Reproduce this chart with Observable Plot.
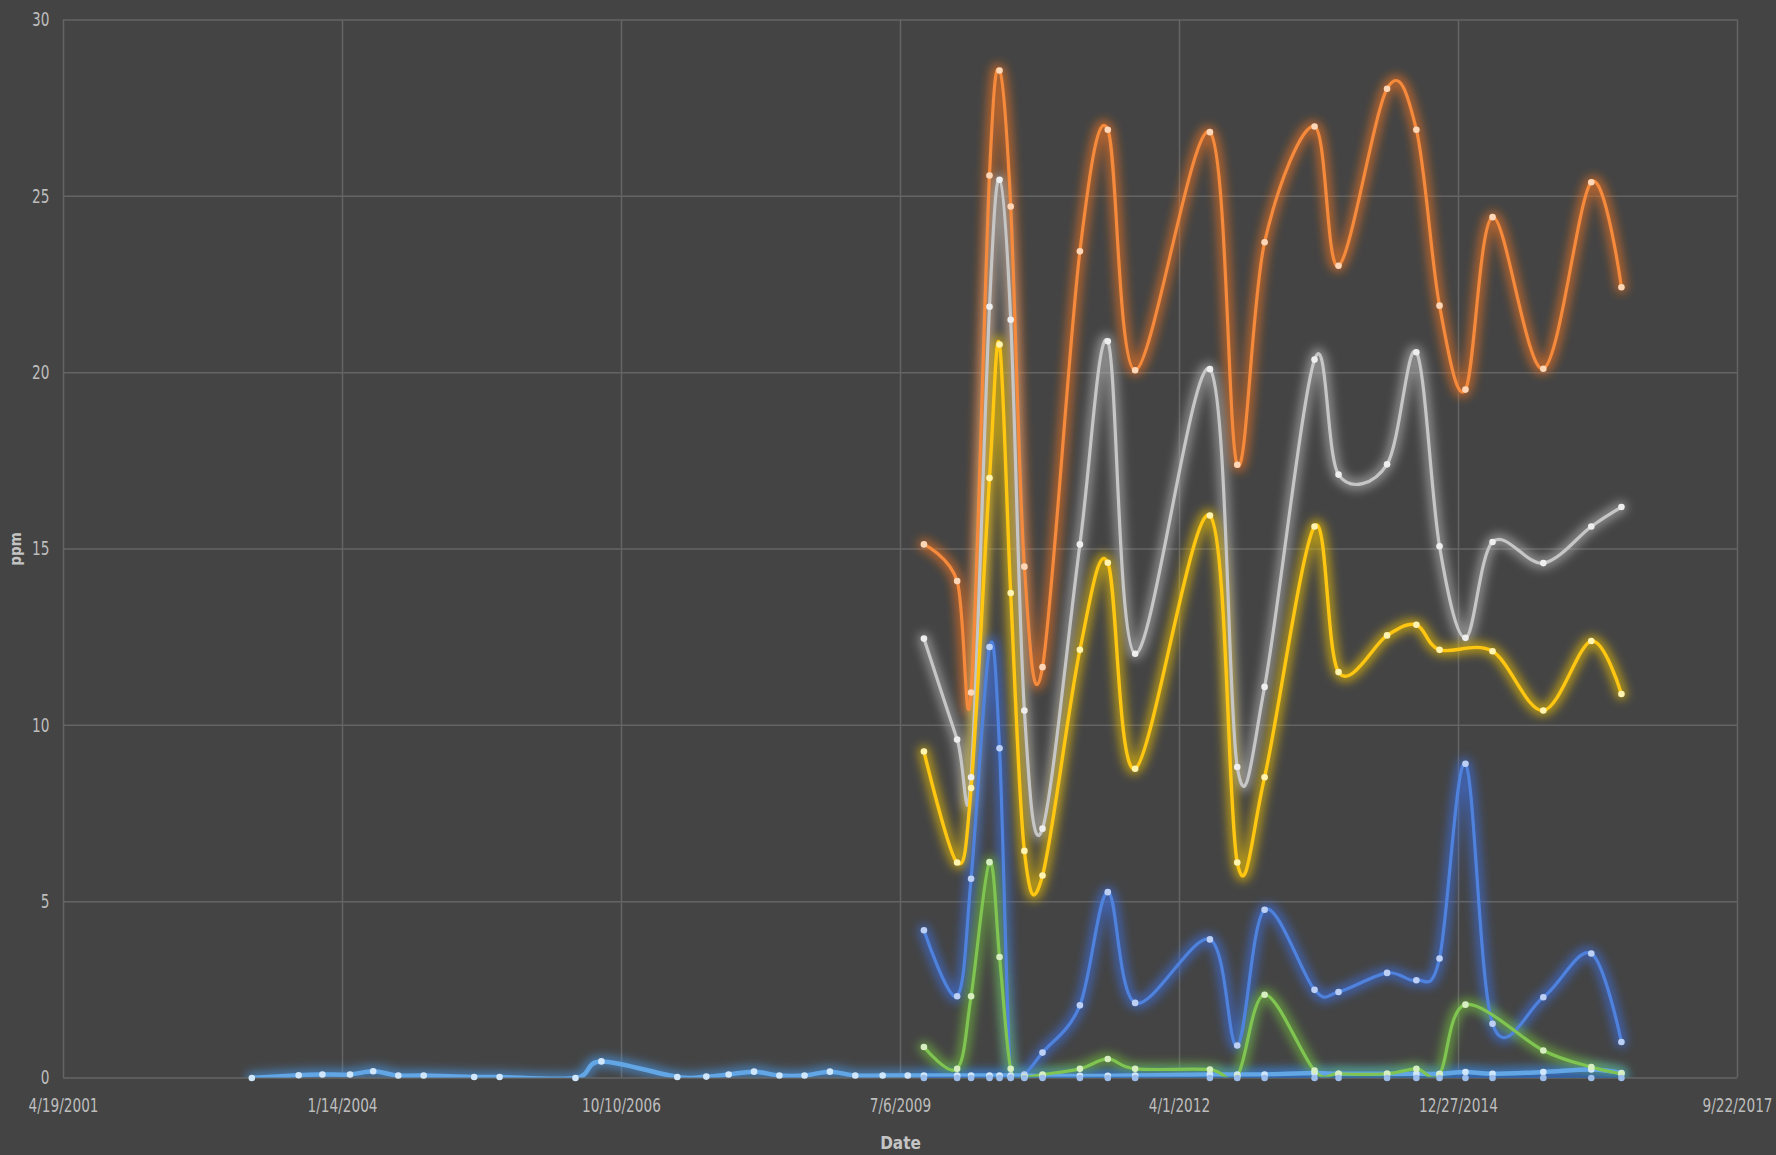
<!DOCTYPE html>
<html>
<head>
<meta charset="utf-8">
<script src="https://cdn.jsdelivr.net/npm/d3@7"></script>
<script src="https://cdn.jsdelivr.net/npm/@observablehq/plot@0.6"></script>
<style>
  html, body { margin: 0; padding: 0; background: #444444; }
  #chart svg { display: block; }
</style>
</head>
<body>
<div id="chart"></div>
<script>
// ---- tick labels ----
const xTickLabels = ["4/19/2001", "1/14/2004", "10/10/2006", "7/6/2009", "4/1/2012", "12/27/2014", "9/22/2017"];
const yTicks = [0, 5, 10, 15, 20, 25, 30];

// ---- early sampling dates (only Series1) ----
const earlyDates = ["2003-02-23","2003-08-10","2003-11-03","2004-02-10","2004-05-03","2004-08-01","2004-10-31",
  "2005-04-30","2005-07-30","2006-04-28","2006-07-30","2007-04-28","2007-08-10","2007-10-29","2008-01-28",
  "2008-04-28","2008-07-27","2008-10-26","2009-01-25","2009-05-03","2009-08-01"];
const series1Early = [0.00,0.08,0.10,0.10,0.19,0.07,0.07,0.03,0.03,0.00,0.47,0.03,0.04,0.10,0.18,0.07,0.07,0.18,0.07,0.07,0.07];

// ---- later sampling dates (all series) ----
const lateDates = ["2009-09-28","2010-01-25","2010-03-16","2010-05-21","2010-06-26","2010-08-05","2010-09-23",
  "2010-11-27","2011-04-10","2011-07-19","2011-10-25","2012-07-19","2012-10-25","2013-01-31","2013-07-29",
  "2013-10-23","2014-04-15","2014-07-29","2014-10-20","2015-01-21","2015-04-28","2015-10-27","2016-04-16","2016-08-02"];
const series1Late = [0.07,0.07,0.07,0.07,0.07,0.07,0.07,0.06,0.06,0.06,0.07,0.10,0.10,0.10,0.14,0.12,0.12,0.12,0.12,0.17,0.12,0.17,0.24,0.14];
const series2 = [15.13,14.09,10.93,25.59,28.57,24.71,14.50,11.65,23.44,26.89,20.07,26.82,17.39,23.70,26.98,23.03,28.05,26.89,21.90,19.52,24.41,20.11,25.40,22.42];
const series3 = [12.46,9.60,8.53,21.87,25.47,21.50,10.42,7.07,15.13,20.89,12.03,20.10,8.82,11.09,20.37,17.11,17.40,20.58,15.08,12.48,15.20,14.60,15.64,16.19];
const series4 = [9.26,6.11,8.22,17.01,20.80,13.75,6.44,5.74,12.14,14.61,8.77,15.95,6.11,8.53,15.64,11.51,12.55,12.85,12.14,null,12.10,10.42,12.39,10.89];
const series5 = [4.19,2.32,5.65,12.22,9.35,0.03,0.10,0.72,2.06,5.27,2.13,3.93,0.92,4.77,2.50,2.44,2.98,2.77,3.39,8.91,1.54,2.29,3.53,1.02];
const series6 = [0.88,0.26,2.32,6.12,3.43,0.26,0.03,0.10,0.26,0.54,0.26,0.24,0.05,2.36,0.21,0.12,0.12,0.26,0.10,2.08,null,0.78,0.31,0.12];
const series7 = [0.00,0.00,0.00,0.00,0.00,0.00,0.00,0.00,0.00,0.00,0.00,0.00,0.00,0.00,0.00,0.00,0.00,0.00,0.00,0.00,0.00,0.00,0.00,0.00];

const seriesNames = ["Series1","Series2","Series3","Series4","Series5","Series6","Series7"];
const lineColors  = ["#62a6e6","#f58a3c","#c6c6c6","#ffc612","#4f82dc","#80c452","#2d62ad"];
const glowColors  = ["#4a9cf0","#f37520","#b4b4b4","#f2c400","#3c72e6","#74c23c","#2a64c8"];
const dotColors   = ["#d0e6fa","#fdd6b8","#eeeeee","#fff3b0","#bcd0f6","#d6eec0","#9cbcea"];
const lineWidths  = [4.5, 3.2, 3.2, 3.4, 3.2, 3.2, 2.4];

// ---- build rows ----
const seriesData = [
  [earlyDates.concat(lateDates), series1Early.concat(series1Late)],
  [lateDates, series2],
  [lateDates, series3],
  [lateDates, series4],
  [lateDates, series5],
  [lateDates, series6],
  [lateDates, series7]
].map(([dates, vals], i) => dates
  .map((d, j) => ({series: seriesNames[i], date: new Date(d + "T00:00:00Z"), value: vals[j]}))
  .filter(r => r.value != null));

const parseTick = d3.utcParse("%m/%d/%Y");
const xTicks = xTickLabels.map(parseTick);
const fmt = d3.utcFormat("%-m/%-d/%Y");

const glowMarks = seriesData.map((rows, i) => Plot.line(rows, {
  x: "date", y: "value", curve: "cardinal", clip: true,
  stroke: glowColors[i], strokeWidth: 12, strokeOpacity: 0.6,
  ariaDescription: "glow"
}));
const lineMarks = seriesData.map((rows, i) => Plot.line(rows, {
  x: "date", y: "value", curve: "cardinal", clip: true,
  stroke: lineColors[i], strokeWidth: lineWidths[i]
}));
const dotMarks = seriesData.map((rows, i) => Plot.dot(rows, {
  x: "date", y: "value", r: 3.3, fill: dotColors[i], stroke: "none"
}));

const chart = Plot.plot({
  width: 1776,
  height: 1155,
  marginLeft: 63,
  marginRight: 39,
  marginTop: 19.5,
  marginBottom: 77.5,
  style: {
    background: "#444444",
    color: "#bdbdbd",
    fontFamily: "'DejaVu Sans Condensed', 'DejaVu Sans', sans-serif"
  },
  x: {type: "utc", domain: [xTicks[0], xTicks[xTicks.length - 1]]},
  y: {domain: [0, 30]},
  marks: [
    Plot.gridY(yTicks, {stroke: "#646464", strokeOpacity: 1, strokeWidth: 1.5}),
    Plot.gridX(xTicks, {stroke: "#646464", strokeOpacity: 1, strokeWidth: 1.5}),
    Plot.axisY(yTicks, {tickSize: 0, tickPadding: 14, fontSize: 20, fill: "#bdbdbd", label: null}),
    Plot.axisX(xTicks, {tickSize: 0, tickPadding: 20, fontSize: 20, tickFormat: fmt, fill: "#bdbdbd", label: null}),
    ...glowMarks,
    ...lineMarks,
    ...dotMarks,
    Plot.text(["ppm"], {x: xTicks[0], y: 15, dx: -47, rotate: -90, fontSize: 15, fontWeight: "bold", fill: "#c4c4c4"}),
    Plot.text(["Date"], {frameAnchor: "bottom", dy: 71, fontSize: 17, fontWeight: "bold", fill: "#c4c4c4"})
  ]
});

// glow filter
const svg = d3.select(chart);
const defs = svg.insert("defs", ":first-child");
const f = defs.append("filter").attr("id", "glowBlur")
  .attr("filterUnits", "userSpaceOnUse")
  .attr("x", 0).attr("y", 0).attr("width", 1776).attr("height", 1155);
f.append("feGaussianBlur").attr("stdDeviation", 5);
svg.selectAll('[aria-description="glow"]').attr("filter", "url(#glowBlur)");

document.getElementById("chart").appendChild(chart);

// condense tick labels (reference uses a narrow font)
svg.selectAll('[aria-label="x-axis tick label"] text, [aria-label="y-axis tick label"] text').each(function() {
  const w = this.getComputedTextLength();
  this.setAttribute("textLength", (w * 0.76).toFixed(1));
  this.setAttribute("lengthAdjust", "spacingAndGlyphs");
});
</script>
</body>
</html>
